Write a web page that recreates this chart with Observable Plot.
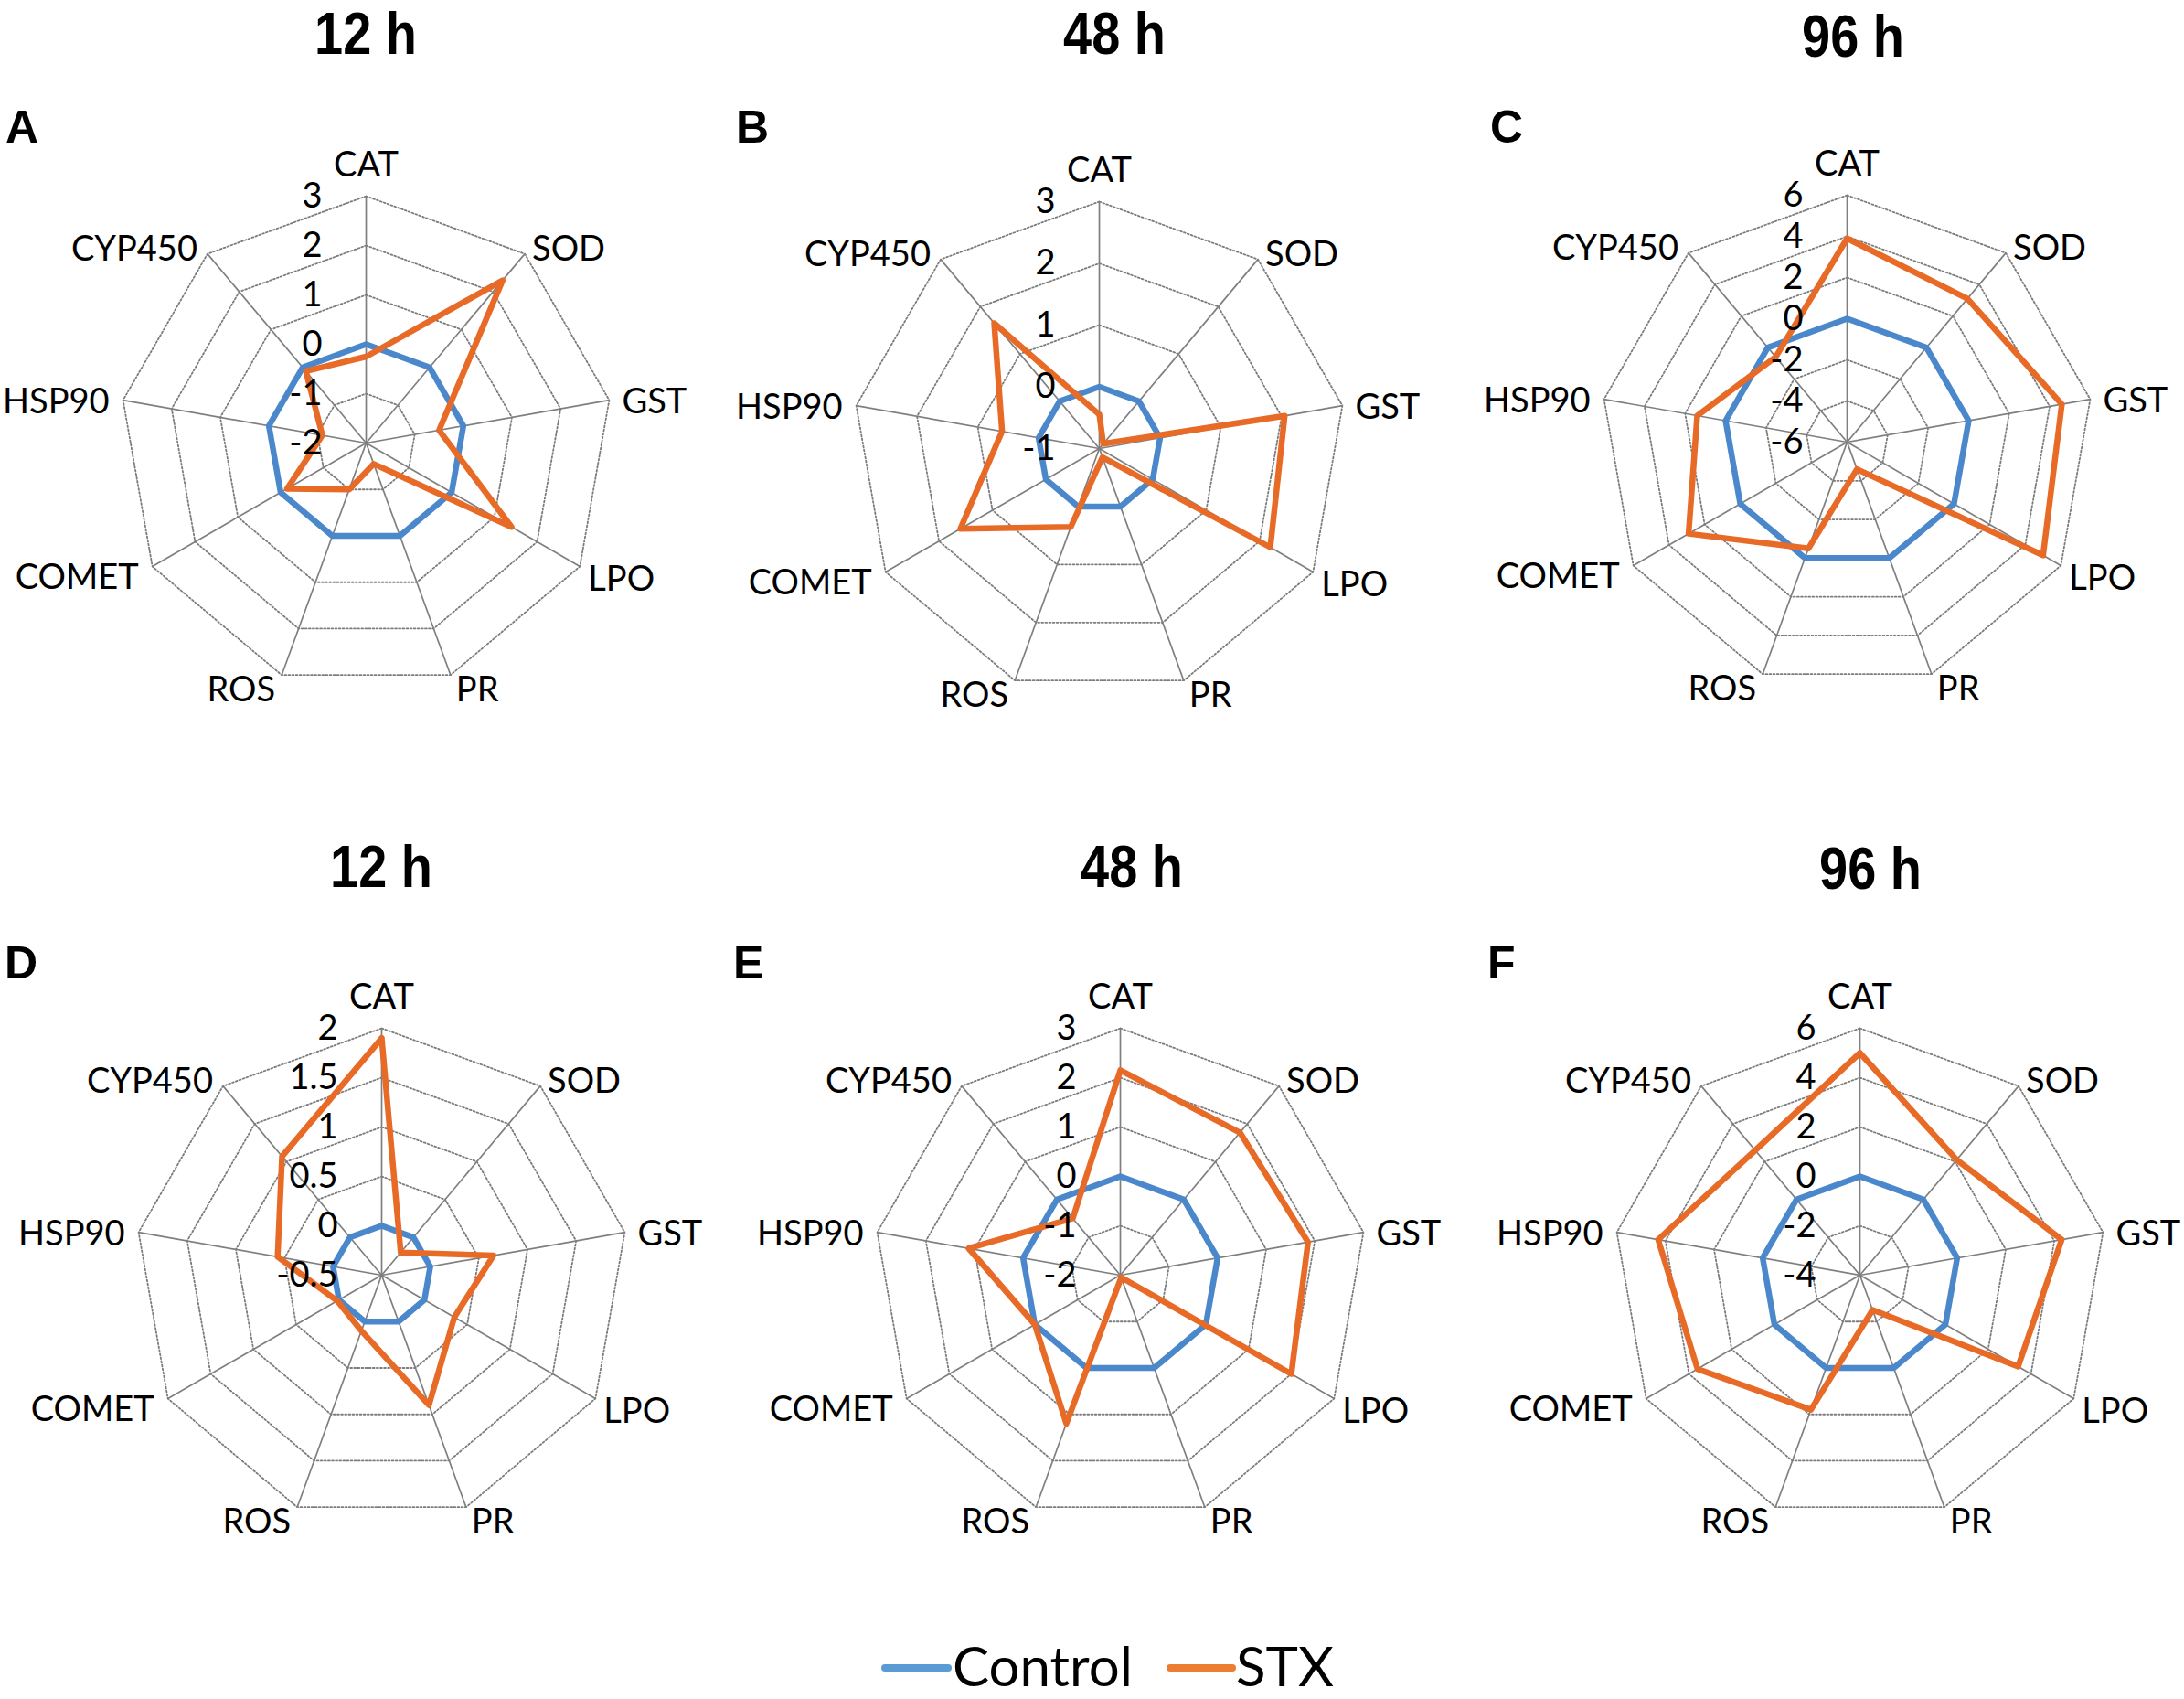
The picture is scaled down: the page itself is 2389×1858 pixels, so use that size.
<!DOCTYPE html>
<html>
<head>
<meta charset="utf-8">
<script src="https://cdn.jsdelivr.net/npm/d3@7"></script>
<script src="https://cdn.jsdelivr.net/npm/@observablehq/plot@0.6"></script>
<style>
  html, body { margin: 0; padding: 0; background: #fff; }
  #fig { position: relative; width: 2389px; height: 1858px; overflow: hidden; background: #fff; }
  .panel { position: absolute; }
  #overlay { position: absolute; left: 0; top: 0; }
</style>
</head>
<body>
<div id="fig"></div>
<script>
// ---------------- DATA ----------------
const categories = ["CAT", "SOD", "GST", "LPO", "PR", "ROS", "COMET", "HSP90", "CYP450"];
const seriesNames = ["Control", "STX"];
const panelIds = ["A", "B", "C", "D", "E", "F"];
const panelTitles = ["12 h", "48 h", "96 h", "12 h", "48 h", "96 h"];

const controlA = [0, 0, 0, 0, 0, 0, 0, 0, 0];
const stxA = [-0.25, 2.3, -0.5, 1.4, -1.55, -1.0, -0.15, -1.1, -0.1];
const ticksA = [-2, -1, 0, 1, 2, 3];
const tickLabelsA = ["-2", "-1", "0", "1", "2", "3"];

const controlB = [0, 0, 0, 0, 0, 0, 0, 0, 0];
const stxB = [-0.45, -0.9, 2.05, 2.2, -0.85, 0.35, 1.6, 0.6, 1.65];
const ticksB = [-1, 0, 1, 2, 3];
const tickLabelsB = ["-1", "0", "1", "2", "3"];

const controlC = [0, 0, 0, 0, 0, 0, 0, 0, 0];
const stxC = [3.9, 3.1, 4.6, 5.0, -4.6, -0.5, 2.9, 1.4, -0.6];
const ticksC = [-6, -4, -2, 0, 2, 4, 6];
const tickLabelsC = ["-6", "-4", "-2", "0", "2", "4", "6"];

const controlD = [0, 0, 0, 0, 0, 0, 0, 0, 0];
const stxD = [1.9, -0.2, 0.65, 0.35, 0.9, 0.1, 0.02, 0.57, 1.07];
const ticksD = [-0.5, 0, 0.5, 1, 1.5, 2];
const tickLabelsD = ["-0.5", "0", "0.5", "1", "1.5", "2"];

const controlE = [0, 0, 0, 0, 0, 0, 0, 0, 0];
const stxE = [2.15, 1.77, 1.86, 2.0, -1.95, 1.2, 0.0, 1.12, -0.5];
const ticksE = [-2, -1, 0, 1, 2, 3];
const tickLabelsE = ["-2", "-1", "0", "1", "2", "3"];

const controlF = [0, 0, 0, 0, 0, 0, 0, 0, 0];
const stxF = [5.0, 2.1, 4.3, 3.4, -2.5, 1.8, 3.6, 4.3, 2.6];
const ticksF = [-4, -2, 0, 2, 4, 6];
const tickLabelsF = ["-4", "-2", "0", "2", "4", "6"];

// ---------------- LAYOUT / STYLE ----------------
const panels = [
  {id: "A", title: panelTitles[0], control: controlA, stx: stxA, ticks: ticksA, tickLabels: tickLabelsA},
  {id: "B", title: panelTitles[1], control: controlB, stx: stxB, ticks: ticksB, tickLabels: tickLabelsB},
  {id: "C", title: panelTitles[2], control: controlC, stx: stxC, ticks: ticksC, tickLabels: tickLabelsC},
  {id: "D", title: panelTitles[3], control: controlD, stx: stxD, ticks: ticksD, tickLabels: tickLabelsD},
  {id: "E", title: panelTitles[4], control: controlE, stx: stxE, ticks: ticksE, tickLabels: tickLabelsE},
  {id: "F", title: panelTitles[5], control: controlF, stx: stxF, ticks: ticksF, tickLabels: tickLabelsF}
];
const layout = {
  A: {cx: 399.5, cy: 484, tx: 400, ty: 59, lx: 6, ly: 156},
  B: {cx: 1202, cy: 490, tx: 1219, ty: 59, lx: 805, ly: 156},
  C: {cx: 2020, cy: 483, tx: 2027, ty: 62, lx: 1630, ly: 156},
  D: {cx: 417, cy: 1394, tx: 417, ty: 970, lx: 5, ly: 1070},
  E: {cx: 1225, cy: 1394, tx: 1238, ty: 970, lx: 802, ly: 1070},
  F: {cx: 2034, cy: 1394, tx: 2046, ty: 972, lx: 1627, ly: 1070}
};
const W = 840, H = 760, LCX = 420, LCY = 380, R = 270;
const lineColors = {Control: "#4A88CB", STX: "#E86A27"};
const legendColors = {Control: "#5B9BD5", STX: "#ED7D31"};
const labelFont = "Lato, 'Open Sans', sans-serif";
const labelPlacement = [
  {textAnchor: "middle", lineAnchor: "bottom", dx: 0, dy: -22},
  {textAnchor: "start", lineAnchor: "middle", dx: 8, dy: -5},
  {textAnchor: "start", lineAnchor: "middle", dx: 14, dy: 2},
  {textAnchor: "start", lineAnchor: "middle", dx: 9, dy: 14},
  {textAnchor: "start", lineAnchor: "top", dx: 6, dy: 2},
  {textAnchor: "end", lineAnchor: "top", dx: -7, dy: 2},
  {textAnchor: "end", lineAnchor: "middle", dx: -15, dy: 12},
  {textAnchor: "end", lineAnchor: "middle", dx: -15, dy: 2},
  {textAnchor: "end", lineAnchor: "middle", dx: -11, dy: -5}
];

const fig = document.getElementById("fig");
const N = categories.length;
const angle = i => (i % N) * 2 * Math.PI / N;

function makePanel(p) {
  const min = d3.min(p.ticks), max = d3.max(p.ticks);
  const norm = v => (v - min) / (max - min);
  const pt = (v, i) => ({x: norm(v) * Math.sin(angle(i)), y: norm(v) * Math.cos(angle(i))});

  const ringData = p.ticks.filter(t => t > min).flatMap(t =>
    d3.range(N + 1).map(k => ({ring: t, ...pt(t, k)})));
  const spokeData = categories.map((c, i) => {
    const e = pt(max, i);
    const o = pt(min, i);
    return {cat: c, x1: o.x, y1: o.y, x2: e.x, y2: e.y};
  });
  const seriesData = name => {
    const vals = name === "Control" ? p.control : p.stx;
    return d3.range(N + 1).map(k => ({series: name, value: vals[k % N], ...pt(vals[k % N], k)}));
  };
  const tickData = p.ticks.map((t, i) => ({label: p.tickLabels[i], x: 0, y: norm(t)}));

  const labelMarks = categories.map((c, i) => {
    const e = pt(max, i);
    const lp = labelPlacement[i];
    return Plot.text([{cat: c, x: e.x, y: e.y}], {
      x: "x", y: "y", text: "cat",
      textAnchor: lp.textAnchor, lineAnchor: lp.lineAnchor, dx: lp.dx, dy: lp.dy,
      fontSize: 38, fontFamily: labelFont, fill: "#000"
    });
  });

  const L = layout[p.id];
  const chart = Plot.plot({
    width: W, height: H, margin: 0,
    x: {domain: [-1, 1], range: [LCX - R, LCX + R], axis: null},
    y: {domain: [-1, 1], range: [LCY + R, LCY - R], axis: null},
    style: {background: "transparent", overflow: "visible"},
    marks: [
      Plot.line(ringData, {x: "x", y: "y", z: "ring", stroke: "#7c7c7c", strokeWidth: 1.8, strokeDasharray: "1.8,2.3"}),
      Plot.link(spokeData, {x1: "x1", y1: "y1", x2: "x2", y2: "y2", stroke: "#7f7f7f", strokeWidth: 1.7}),
      Plot.line(seriesData("Control"), {x: "x", y: "y", stroke: lineColors.Control, strokeWidth: 6.5, strokeLinejoin: "round"}),
      Plot.line(seriesData("STX"), {x: "x", y: "y", stroke: lineColors.STX, strokeWidth: 6.5, strokeLinejoin: "round"}),
      Plot.text(tickData, {x: "x", y: "y", text: "label", textAnchor: "end", dx: -48, fontSize: 38, fontFamily: labelFont, fill: "#000"}),
      ...labelMarks
    ]
  });
  const div = document.createElement("div");
  div.className = "panel";
  div.style.left = (L.cx - LCX) + "px";
  div.style.top = (L.cy - LCY) + "px";
  div.style.width = W + "px";
  div.style.height = H + "px";
  div.appendChild(chart);
  fig.appendChild(div);
}
panels.forEach(makePanel);

// ---------------- TITLES, PANEL LETTERS, LEGEND ----------------
const overlay = d3.select(fig).append("svg")
  .attr("id", "overlay").attr("width", 2389).attr("height", 1858)
  .style("pointer-events", "none");
panels.forEach(p => {
  const L = layout[p.id];
  overlay.append("text")
    .attr("transform", `translate(${L.tx},${L.ty}) scale(0.86,1)`)
    .attr("text-anchor", "middle")
    .attr("font-family", "'Liberation Sans', Arial, sans-serif")
    .attr("font-weight", "bold").attr("font-size", 65).attr("fill", "#000")
    .text(p.title);
  overlay.append("text")
    .attr("x", L.lx).attr("y", L.ly)
    .attr("font-family", "'Liberation Sans', Arial, sans-serif")
    .attr("font-weight", "bold").attr("font-size", 50).attr("fill", "#000")
    .text(p.id);
});
const legendItems = [
  {name: seriesNames[0], x1: 968, x2: 1037, tx: 1042},
  {name: seriesNames[1], x1: 1280, x2: 1348, tx: 1352}
];
legendItems.forEach(it => {
  overlay.append("line")
    .attr("x1", it.x1).attr("x2", it.x2).attr("y1", 1824).attr("y2", 1824)
    .attr("stroke", legendColors[it.name]).attr("stroke-width", 8).attr("stroke-linecap", "round");
  overlay.append("text")
    .attr("x", it.tx).attr("y", 1844)
    .attr("font-family", labelFont).attr("font-size", 60).attr("fill", "#000")
    .text(it.name);
});
</script>
</body>
</html>
